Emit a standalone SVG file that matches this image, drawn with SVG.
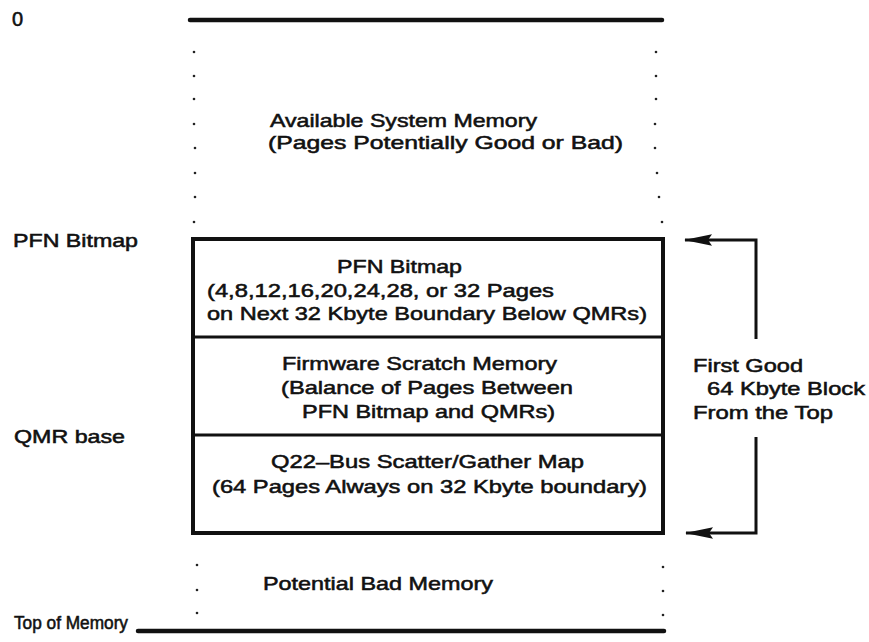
<svg xmlns="http://www.w3.org/2000/svg" width="869" height="642" viewBox="0 0 869 642">
<style>
  text { font-family: "Liberation Sans", Arial, Helvetica, sans-serif; font-size: 19px; fill: #111; stroke: #111; stroke-width: 0.55; }
  .rule { stroke: #111; stroke-width: 4.5; stroke-linecap: round; fill: none; }
  .box { stroke: #111; stroke-width: 4; fill: #fff; }
  .div { stroke: #111; stroke-width: 3; }
  .dot { fill: #222; }
  .conn { stroke: #111; stroke-width: 3; fill: none; }
</style>
<defs>
  <marker id="arrow" markerUnits="userSpaceOnUse" markerWidth="28" markerHeight="12" viewBox="0 0 28 12" refX="27" refY="6" orient="auto">
    <path d="M0,0.3 L28,6 L0,11.7 L4,6 Z" fill="#111"/>
  </marker>
</defs>
<rect width="869" height="642" fill="#fff"/>

<g id="label-zero"><text x="12" y="26" style="font-size:20px">0</text></g>
<g id="label-pfn"><text x="13" y="247" textLength="125" lengthAdjust="spacingAndGlyphs">PFN Bitmap</text></g>
<g id="label-qmr"><text x="14" y="443" textLength="111" lengthAdjust="spacingAndGlyphs">QMR base</text></g>
<g id="label-top"><text x="14" y="629" textLength="114" lengthAdjust="spacingAndGlyphs" style="font-size:18px">Top of Memory</text></g>

<g id="available-memory">
  <line class="rule" x1="190" y1="20" x2="662" y2="20"/>
  <g class="dot">
    <circle cx="194" cy="52" r="1.3"/><circle cx="194" cy="76" r="1.3"/><circle cx="194" cy="99" r="1.3"/><circle cx="194" cy="124" r="1.3"/>
    <circle cx="195" cy="148" r="1.3"/><circle cx="195" cy="173" r="1.3"/><circle cx="195" cy="197" r="1.3"/><circle cx="194" cy="222" r="1.3"/>
    <circle cx="656" cy="52" r="1.3"/><circle cx="656" cy="76" r="1.3"/><circle cx="656" cy="99" r="1.3"/><circle cx="655" cy="124" r="1.3"/>
    <circle cx="655" cy="148" r="1.3"/><circle cx="657" cy="173" r="1.3"/><circle cx="659" cy="197" r="1.3"/><circle cx="662" cy="222" r="1.3"/>
  </g>
  <text x="270" y="127" textLength="267" lengthAdjust="spacingAndGlyphs">Available System Memory</text>
  <text x="268" y="149" textLength="355" lengthAdjust="spacingAndGlyphs">(Pages Potentially Good or Bad)</text>
</g>

<g id="memory-block">
  <rect class="box" x="193" y="239" width="470" height="294"/>
  <line class="div" x1="193" y1="337" x2="663" y2="337"/>
  <line class="div" x1="193" y1="435" x2="663" y2="435"/>
</g>

<g id="pfn-bitmap">
  <text x="337" y="273" textLength="125" lengthAdjust="spacingAndGlyphs">PFN Bitmap</text>
  <text x="207" y="297" textLength="347" lengthAdjust="spacingAndGlyphs">(4,8,12,16,20,24,28, or 32 Pages</text>
  <text x="207" y="320" textLength="440" lengthAdjust="spacingAndGlyphs">on Next 32 Kbyte Boundary Below QMRs)</text>
</g>

<g id="firmware-scratch">
  <text x="282" y="370" textLength="275" lengthAdjust="spacingAndGlyphs">Firmware Scratch Memory</text>
  <text x="281" y="394" textLength="292" lengthAdjust="spacingAndGlyphs">(Balance of Pages Between</text>
  <text x="302" y="418" textLength="253" lengthAdjust="spacingAndGlyphs">PFN Bitmap and QMRs)</text>
</g>

<g id="q22-map">
  <text x="271" y="468" textLength="313" lengthAdjust="spacingAndGlyphs">Q22–Bus Scatter/Gather Map</text>
  <text x="212" y="493" textLength="435" lengthAdjust="spacingAndGlyphs">(64 Pages Always on 32 Kbyte boundary)</text>
</g>

<g id="first-good-block">
  <text x="693" y="372" textLength="110" lengthAdjust="spacingAndGlyphs">First Good</text>
  <text x="707" y="395" textLength="158" lengthAdjust="spacingAndGlyphs">64 Kbyte Block</text>
  <text x="693" y="419" textLength="140" lengthAdjust="spacingAndGlyphs">From the Top</text>
</g>

<g id="potential-bad">
  <g class="dot">
    <circle cx="197" cy="565" r="1.3"/><circle cx="197" cy="590" r="1.3"/><circle cx="197" cy="613" r="1.3"/>
    <circle cx="663" cy="567" r="1.3"/><circle cx="663" cy="591" r="1.3"/><circle cx="663" cy="615" r="1.3"/>
  </g>
  <text x="263" y="590" textLength="230" lengthAdjust="spacingAndGlyphs">Potential Bad Memory</text>
  <line class="rule" x1="138" y1="631" x2="664" y2="631"/>
</g>

<g id="connectors">
  <path class="conn" d="M756,339 V240 H685" marker-end="url(#arrow)"/>
  <path class="conn" d="M756,437 V533 H686" marker-end="url(#arrow)"/>
</g>
</svg>
